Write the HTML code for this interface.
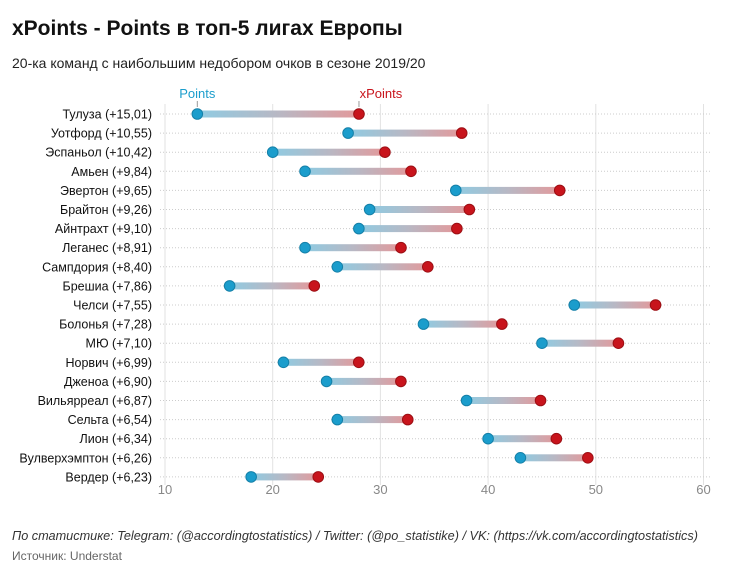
<!DOCTYPE html>
<html><head><meta charset="utf-8"><style>
body{margin:0;background:#fff;font-family:"Liberation Sans","DejaVu Sans",sans-serif;}
</style></head><body>
<svg width="730" height="575" xmlns="http://www.w3.org/2000/svg">
<defs><linearGradient id="g" x1="0" x2="1" y1="0" y2="0"><stop offset="0" stop-color="#8fcbe2"/><stop offset="0.5" stop-color="#b8b8c4"/><stop offset="1" stop-color="#e3999b"/></linearGradient></defs>
<text x="12" y="35" font-size="21" font-weight="bold" fill="#111">xPoints - Points в топ-5 лигах Европы</text>
<text x="12" y="68" font-size="14" fill="#222">20-ка команд с наибольшим недобором очков в сезоне 2019/20</text>
<g id="grid"></g><g id="rows"></g>
<text x="12" y="540" font-size="12.7" font-style="italic" fill="#333">По статистике: Telegram: (@accordingtostatistics) / Twitter: (@po_statistike) / VK: (https://vk.com/accordingtostatistics)</text>
<text x="12" y="560" font-size="12" fill="#666">Источник: Understat</text>
</svg>
<script>
const teams=["Тулуза (+15,01)","Уотфорд (+10,55)","Эспаньол (+10,42)","Амьен (+9,84)","Эвертон (+9,65)","Брайтон (+9,26)","Айнтрахт (+9,10)","Леганес (+8,91)","Сампдория (+8,40)","Брешиа (+7,86)","Челси (+7,55)","Болонья (+7,28)","МЮ (+7,10)","Норвич (+6,99)","Дженоа (+6,90)","Вильярреал (+6,87)","Сельта (+6,54)","Лион (+6,34)","Вулверхэмптон (+6,26)","Вердер (+6,23)"];
const points=[13,27,20,23,37,29,28,23,26,16,48,34,45,21,25,38,26,40,43,18];
const xpoints=[28.01,37.55,30.42,32.84,46.65,38.26,37.10,31.91,34.40,23.86,55.55,41.28,52.10,27.99,31.90,44.87,32.54,46.34,49.26,24.23];
const ticks=[10,20,30,40,50,60];
const NS="http://www.w3.org/2000/svg";
const X=v=>165+(v-10)*10.77, Y=i=>114+i*19.1;
function mk(t,a,p){const e=document.createElementNS(NS,t);for(const k in a)e.setAttribute(k,a[k]);p.appendChild(e);return e;}
const grid=document.getElementById('grid'),rows=document.getElementById('rows');
ticks.forEach(t=>{
 const l=mk('line',{x1:X(t),x2:X(t),y1:104,y2:485,stroke:'#e2e2e2','stroke-width':1},grid);
 
 
 const tx=mk('text',{x:X(t),y:494,'font-size':13,fill:'#888','text-anchor':'middle'},grid);tx.textContent=t;
 
 
});
teams.forEach((n,i)=>{
 const y=Y(i);
 const d=mk('line',{x1:160,x2:710,y1:y,y2:y,stroke:'#ccc','stroke-width':1,'stroke-dasharray':'1,2'},grid);
 
 
 const lb=mk('text',{x:152,y:y+4.5,'font-size':12.5,fill:'#111','text-anchor':'end'},rows);lb.textContent=n;
 
 
 const bar=mk('rect',{x:X(points[i]),y:y-3.5,width:X(xpoints[i])-X(points[i]),height:7,fill:'url(#g)'},rows);
 
 
 const c1=mk('circle',{cx:X(points[i]),cy:y,r:5.3,fill:'#1b9dcc',stroke:'#1580a8','stroke-width':1},rows);
 
 
 const c2=mk('circle',{cx:X(xpoints[i]),cy:y,r:5.3,fill:'#c8141c',stroke:'#9c0f14','stroke-width':1},rows);
 
 
});
const p=mk('text',{x:X(points[0]),y:98,'font-size':13,fill:'#1b9dcc','text-anchor':'middle'},rows);p.textContent='Points';


const q=mk('text',{x:X(xpoints[0])+22,y:98,'font-size':13,fill:'#c8141c','text-anchor':'middle'},rows);q.textContent='xPoints';


[X(points[0]),X(xpoints[0])].forEach(x=>{const l=mk('line',{x1:x,x2:x,y1:101,y2:107,stroke:'#999'},rows);
 
 });
</script>
</body></html>
